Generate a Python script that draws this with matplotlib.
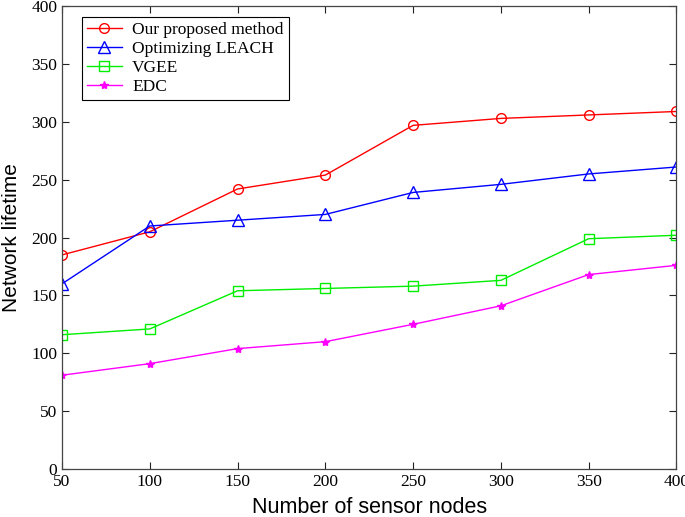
import matplotlib
matplotlib.use('Agg')
import matplotlib.pyplot as plt

# Data
nodes = [50, 100, 150, 200, 250, 300, 350, 400]
proposed = [185, 205, 242, 254, 297, 303, 306, 309]
leach = [160, 210, 215, 220, 239, 246, 255, 261]
vgee = [116, 121, 154, 156, 158, 163, 199, 202]
edc = [81, 91, 104, 110, 125, 141, 168, 176]

labels = ['Our proposed method', 'Optimizing LEACH', 'VGEE', 'EDC']
x_ticks = [50, 100, 150, 200, 250, 300, 350, 400]
y_ticks = [0, 50, 100, 150, 200, 250, 300, 350, 400]

serif = 'Liberation Serif'
sans = 'Liberation Sans'

fig = plt.figure(figsize=(6.85, 5.17), dpi=100)
ax = fig.add_axes([0.0905, 0.093, 0.897, 0.895])

ax.plot(nodes, proposed, color='#ff0000', marker='o', mfc='none',
        ms=7, lw=1.0, label=labels[0])
ax.plot(nodes, leach, color='#0000ff', marker='^', mfc='none',
        ms=8, lw=1.0, label=labels[1])
ax.plot(nodes, vgee, color='#00ee00', marker='s', mfc='none',
        ms=7, lw=1.0, label=labels[2])
ax.plot(nodes, edc, color='#ff00ff', marker='*', ms=6, lw=1.0,
        label=labels[3])

ax.set_xlim(50, 400)
ax.set_ylim(0, 400)
ax.set_xticks(x_ticks)
ax.set_yticks(y_ticks)
ax.tick_params(direction='in', top=True, right=True, length=5,
               width=0.8, colors='#222222', labelcolor='black', pad=3.5)
for lab in ax.get_xticklabels() + ax.get_yticklabels():
    lab.set_fontfamily(serif)
    lab.set_fontsize(12.5)
for sp in ax.spines.values():
    sp.set_color('#444444')
    sp.set_linewidth(0.9)

ax.set_xlabel('Number of sensor nodes', family=sans, fontsize=15.5)
ax.set_ylabel('Network lifetime', family=sans, fontsize=15)
ax.xaxis.set_label_coords(0.5, -0.061)
ax.yaxis.set_label_coords(-0.066, 0.5)

leg = ax.legend(loc='upper left', bbox_to_anchor=(0.032, 0.977),
                prop={'family': serif, 'size': 12.5}, fancybox=False,
                edgecolor='black', framealpha=1, borderpad=0.3,
                labelspacing=0.16, handlelength=2.0, handletextpad=0.6,
                borderaxespad=0)
leg.get_frame().set_linewidth(0.8)

fig.savefig('out.png', dpi=100)
